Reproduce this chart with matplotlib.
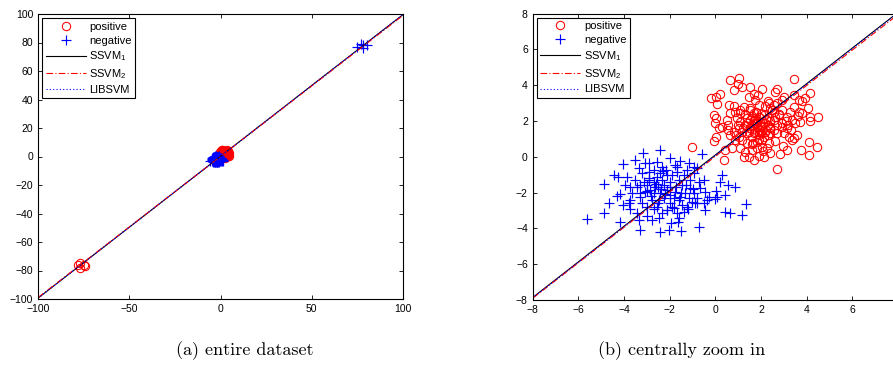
import matplotlib
matplotlib.use("Agg")
import matplotlib.pyplot as plt
import numpy as np

plt.rcParams['font.family'] = ['Liberation Sans', 'DejaVu Sans']
plt.rcParams['axes.unicode_minus'] = True

# positive class (red circles), central cluster
pos_x = [-1.02, -0.07, 0.04, 0.36, 0.44, -0.19, 0.01, 0.19, 0.07, -0.07, 0.04, 0.00, 0.15, 0.29,
         0.51, 0.54, 0.63, 1.02, 1.00, 0.80, 1.17, 1.50, 1.46, 1.68, 2.04, 1.85, 0.58, 0.80, 0.88,
         1.09, 1.27, 1.53, 1.75, 2.19, 2.34, 2.55, 2.70, 2.92, 3.00, 2.63, 2.70, 3.46, 3.43, 3.65,
         3.80, 3.94, 4.13, 4.04, 4.13, 4.48, 3.80, 3.65, 3.43, 3.28, 3.14, 3.36, 3.50, 3.69, 4.13,
         3.14, 2.92, 3.00, 3.21, 3.43, 3.58, 3.36, 2.96, 3.14, 2.82, 2.70, 3.75, 4.09, 4.09, 4.45,
         2.41, 2.12, 1.90, 1.68, 1.46, 1.24, 1.31, 1.61, 1.82, 2.04, 2.26, 2.34, 1.82, 1.65, 1.39,
         1.09, 0.88, 0.73, 1.02, 0.80, 1.02, 1.17, 1.31, 1.09, 0.95, 1.39, 1.53, 1.68, 1.82, 1.97,
         1.75, 1.61, 1.90, 2.12, 2.04, 2.19, 2.41, 2.55, 2.70, 2.55, 2.34, 2.12, 1.90, 1.97, 1.75,
         2.19, 2.41, 2.77, 2.92, 2.55, 2.41, 0.66, 0.54, 0.66, 1.17, 1.46, 1.68, 1.82, 2.04, 1.90,
         1.53, 1.39, 1.68,
         1.6, 1.7, 1.8, 1.9, 2.0, 2.1, 2.2, 2.3, 1.5, 1.4, 1.6, 1.8, 2.0, 2.2, 2.4, 2.6, 2.8, 2.9,
         3.1, 3.3, 1.2, 1.0, 1.3, 1.5, 1.9, 2.3, 2.5, 2.7, 2.3, 1.9, 1.6, 2.1, 2.6, 3.2, 3.6, 1.1,
         0.9, 1.7, 2.0, 2.4]
pos_y = [0.56, 0.89, 1.08, -0.19, 0.37, 3.29, 3.35, 3.53, 2.94, 2.33, 2.14, 1.86, 1.58, 1.67,
         2.05, 1.77, 4.28, 4.41, 4.09, 3.72, 3.91, 3.91, 3.35, 3.53, 3.80, 3.44, 2.88, 2.83, 2.51,
         2.42, 2.79, 2.60, 3.16, 2.83, 2.98, 2.88, 2.98, 3.16, 3.35, 3.63, 3.81, 4.32, 3.44, 3.16,
         3.12, 3.26, 3.57, 2.70, 2.20, 2.20, 2.42, 2.51, 2.79, 2.51, 2.23, 2.05, 1.86, 1.95, 2.01,
         1.58, 1.67, 1.30, 1.12, 1.02, 1.21, 0.93, 0.61, 0.37, 0.15, -0.71, 0.37, 0.84, 0.09, 0.54,
         0.19, -0.04, 0.04, -0.19, 0.00, -0.04, 0.28, 0.37, 0.47, 0.56, 0.47, 0.74, 0.84, 0.74, 0.74,
         0.47, 0.93, 0.47, 1.12, 1.40, 1.58, 1.40, 1.77, 1.95, 2.14, 2.14, 2.05, 1.86, 1.67, 1.49,
         1.40, 1.12, 1.21, 1.12, 0.93, 1.40, 1.30, 1.49, 1.77, 2.05, 2.23, 2.33, 2.23, 1.95, 2.14,
         1.86, 1.67, 2.33, 2.60, 2.51, 2.70, 2.42, 1.49, 1.21, 0.93, 1.40, 2.05, 1.86, 1.67, 1.40,
         1.58, 1.30, 2.42,
         1.8, 2.0, 1.9, 2.2, 1.7, 1.9, 2.1, 1.8, 1.6, 1.9, 2.3, 2.5, 2.4, 1.5, 2.0, 2.2, 2.4, 1.9,
         2.0, 1.5, 1.6, 1.8, 2.4, 2.7, 2.9, 3.1, 2.6, 1.3, 1.2, 1.0, 0.7, 0.3, 0.9, 1.8, 2.3, 2.6,
         1.2, 1.3, 1.3, 1.6]

# negative class (blue plus), central cluster
neg_x = [-2.41, -3.17, -3.50, -4.04, -4.45, -4.28, -4.89, -4.64, -4.31, -4.04, -4.86, -5.62, -4.16,
         -3.75, -3.72, -3.43, -3.35, -3.28, -2.44, -2.05, -1.50, -1.65, -1.94, -2.48, -2.77, -0.73,
         -0.58, -1.53, -1.97, -1.75, -1.17, -0.95, -0.80, -2.55, -2.92, -3.10, -3.35, -3.21, -2.92,
         -3.43, -3.72, -3.89, -3.65, -3.28, -3.14, -2.99, -3.07, -3.28, -3.21, -2.99, -2.77, -2.70,
         -2.70, -2.55, -2.41, -2.34, -2.26, -2.12, -1.97, -1.90, -1.68, -1.61, -1.46, -1.39, -1.24,
         -1.09, -1.31, -1.17, -1.02, -0.92, -0.80, -0.51, -0.47, -0.36, -0.44, -0.88, -1.24, -1.39,
         -1.68, -1.82, -1.97, -2.12, -2.34, -2.55, -2.48, -2.26, -1.97, -1.75, -1.61, -1.46, -1.71,
         -2.12, -2.34, -2.15, -2.70, -2.52, -2.85, -2.92, 0.29, 0.19, 0.54, 0.88, 0.04, 0.07, 0.44,
         0.00, 0.44, 0.63, 1.36, 1.17, -4.16, -3.94, -0.95, -0.73, -0.66, -0.29, -1.12, -1.53,
         -2.41, -2.63,
         -2.6, -2.4, -2.2, -2.0, -1.8, -2.8, -3.0, -2.5, -1.9, -1.5, -1.3, -2.9, -3.3, -3.5, -2.1,
         -1.6, -1.0, -0.8, -2.3, -1.7, -3.8, -3.0, -2.7, -1.2, -0.5]
neg_y = [0.37, 0.19, -0.19, -0.41, -1.02, -1.12, -1.53, -2.57, -2.20, -2.70, -3.13, -3.50, -3.63,
         -2.42, -2.94, -3.16, -3.53, -4.09, -4.19, -4.09, -4.15, -3.63, -3.72, -3.44, -3.53, -3.91,
         0.13, -0.24, -0.09, -0.47, -0.37, -0.56, -0.65, -0.28, -0.37, -0.37, -0.65, -0.93, -0.84,
         -1.67, -1.67, -1.12, -2.05, -1.58, -1.40, -1.58, -1.95, -2.23, -2.60, -2.79, -2.42, -2.05,
         -1.40, -1.12, -0.93, -1.30, -1.58, -1.86, -1.40, -1.02, -0.84, -1.30, -1.58, -1.02, -0.74,
         -1.30, -2.05, -2.33, -2.51, -2.05, -2.33, -1.30, -1.95, -2.42, -2.98, -2.60, -2.79, -3.07,
         -3.16, -2.88, -2.60, -2.98, -3.16, -2.79, -2.42, -2.33, -2.14, -1.95, -2.42, -2.70, -1.67,
         -1.02, -0.56, -0.74, -0.74, -1.67, -1.86, -1.30, -1.02, -1.40, -1.58, -1.67, -1.90, -2.27,
         -2.14, -2.38, -3.11, -3.13, -2.64, -3.26, -2.08, -1.58, -0.93, -1.40, -1.77, -2.23, -1.77,
         -2.23, -2.05, -1.67,
         -1.5, -1.8, -2.1, -1.7, -2.3, -2.2, -1.9, -2.6, -2.8, -2.0, -1.6, -1.2, -2.0, -1.3, -3.0,
         -3.4, -1.8, -2.6, -0.8, -0.6, -2.6, -3.3, -2.9, -2.9, -2.6]

# far-away points (only visible in the full view)
pos_out_x = [-78, -77, -75, -77, -74]
pos_out_y = [-76, -75, -76, -78, -77]
neg_out_x = [75, 78, 80, 77, 78]
neg_out_y = [77, 78, 78, 79, 76]

# separating lines y = w*x + b
line_names = [r'SSVM$_\mathregular{1}$', r'SSVM$_\mathregular{2}$', 'LIBSVM']
line_w = [0.995, 0.990, 0.995]
line_b = [0.10, 0.02, 0.07]
line_styles = [dict(color='black', ls='-', lw=0.8),
               dict(color='red', ls=(0, (6, 2, 1, 2)), lw=0.8),
               dict(color='blue', ls=(0, (1, 2)), lw=0.8)]

px = pos_x + pos_out_x
py = pos_y + pos_out_y
nx = neg_x + neg_out_x
ny = neg_y + neg_out_y

fig = plt.figure(figsize=(8.93, 3.73), dpi=100)
ax1 = fig.add_axes([38/893, 1-299/373, 365/893, 285/373])
ax2 = fig.add_axes([532.7/893, 1-300/373, 365.3/893, 286.5/373])

def panel(ax, lim, step_x, step_y, last_x):
    ax.plot(px, py, 'o', mfc='none', mec='red', ms=6, mew=0.75, label='positive')
    ax.plot(nx, ny, '+', color='blue', ms=6.5, mew=0.85, label='negative')
    xs = np.array([-lim, lim])
    for name, w, b, st in zip(line_names, line_w, line_b, line_styles):
        ax.plot(xs, w*xs + b, label=name, **st)
    ax.set_xlim(-lim, lim)
    ax.set_ylim(-lim, lim)
    ax.set_xticks(np.arange(-lim, last_x + step_x/2, step_x))
    ax.set_yticks(np.arange(-lim, lim + step_y/2, step_y))
    ax.tick_params(direction='in', top=True, right=True, labelsize=7.5, length=3, width=0.6)
    for s in ax.spines.values():
        s.set_linewidth(0.8)
    leg = ax.legend(loc='upper left', fontsize=8, frameon=True, fancybox=False,
                    edgecolor='black', framealpha=1, handlelength=3.6, handletextpad=0.3,
                    borderaxespad=0.4, borderpad=0.3, labelspacing=0.35)
    leg.get_frame().set_linewidth(0.8)

panel(ax1, 100, 50, 20, 100)
panel(ax2, 8, 2, 2, 6)

fig.text(245/893, 1-351/373, '(a) entire dataset', family='cmr10', fontsize=13,
         ha='center', va='center')
fig.text(682/893, 1-351/373, '(b) centrally zoom in', family='cmr10', fontsize=13,
         ha='center', va='center')

fig.savefig('out.png', dpi=100)
